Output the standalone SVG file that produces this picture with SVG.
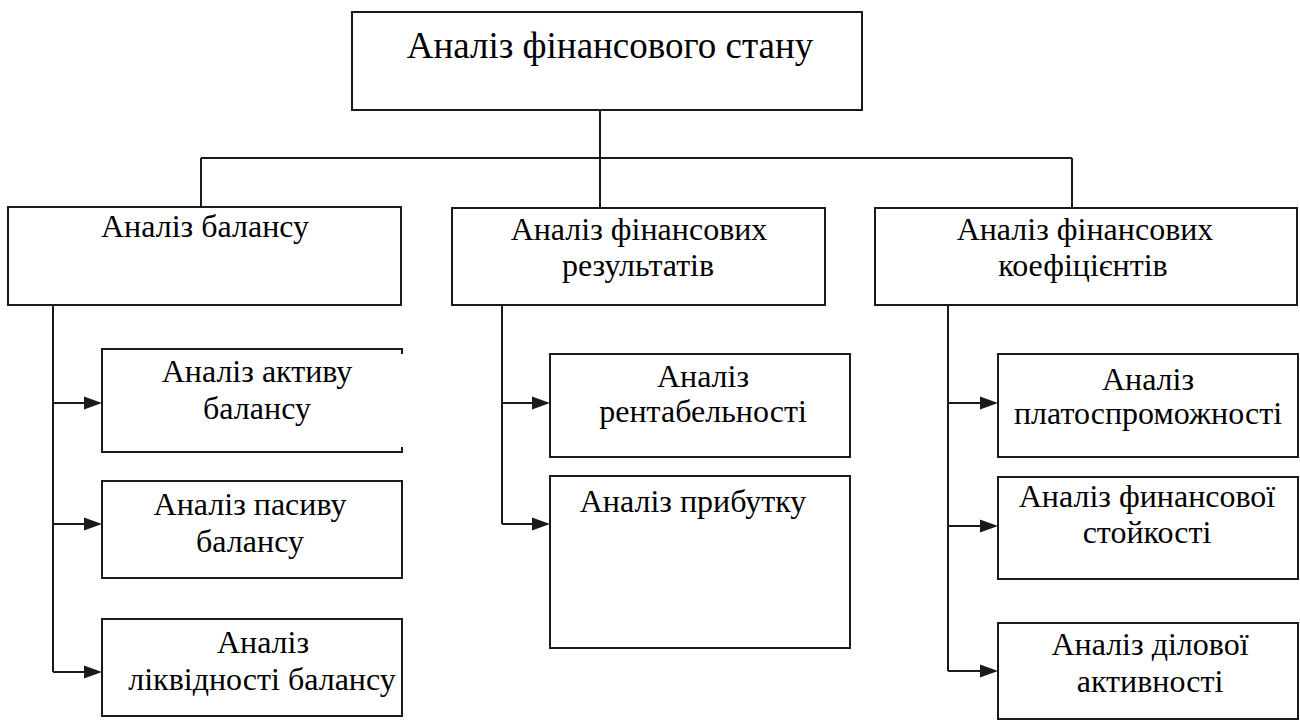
<svg xmlns="http://www.w3.org/2000/svg" width="1300" height="720" viewBox="0 0 1300 720">
<style>
.box{fill:#fff;stroke:#1a1a1a;stroke-width:2}
.ln{fill:none;stroke:#1a1a1a;stroke-width:2}
.ar{fill:#1a1a1a;stroke:none}
</style>
<rect width="1300" height="720" fill="#fff"/>
<g id="connectors">
<path class="ln" d="M600,110 V158 M201,158 H1072 M201,158 V207 M600,158 V208 M1072,158 V208"/>
<path class="ln" d="M53,305 V672 M53,403 H86 M53,524 H86 M53,672 H86"/>
<path class="ar" d="M84,396.5 L102,403 L84,409.5 Z M84,517.5 L102,524 L84,530.5 Z M84,665.5 L102,672 L84,678.5 Z"/>
<path class="ln" d="M502,305 V524 M502,403 H534 M502,524 H534"/>
<path class="ar" d="M532,396.5 L550,403 L532,409.5 Z M532,517.5 L550,524 L532,530.5 Z"/>
<path class="ln" d="M948,305 V671 M948,403 H982 M948,526 H982 M948,671 H982"/>
<path class="ar" d="M980,396.5 L998,403 L980,409.5 Z M980,519.5 L998,526 L980,532.5 Z M980,664.5 L998,671 L980,677.5 Z"/>
</g>
<g id="root">
<rect class="box" x="352" y="12" width="510" height="98"/>
<text x="610" y="58" font-family="Liberation Serif, Times New Roman, serif" font-size="37" text-anchor="middle" fill="#000">Аналіз фінансового стану</text>
</g>
<g id="balance">
<rect class="box" x="8" y="207" width="393" height="98"/>
<text x="205" y="237" font-family="Liberation Serif, Times New Roman, serif" font-size="32" text-anchor="middle" fill="#000">Аналіз балансу</text>
</g>
<g id="results">
<rect class="box" x="452" y="208" width="373" height="97"/>
<text x="639" y="240" font-family="Liberation Serif, Times New Roman, serif" font-size="32" text-anchor="middle" fill="#000">Аналіз фінансових</text>
<text x="638" y="276" font-family="Liberation Serif, Times New Roman, serif" font-size="32" text-anchor="middle" fill="#000">результатів</text>
</g>
<g id="coefficients">
<rect class="box" x="875" y="208" width="422" height="97"/>
<text x="1085" y="240" font-family="Liberation Serif, Times New Roman, serif" font-size="32" text-anchor="middle" fill="#000">Аналіз фінансових</text>
<text x="1083" y="276" font-family="Liberation Serif, Times New Roman, serif" font-size="32" text-anchor="middle" fill="#000">коефіцієнтів</text>
</g>
<g id="assets">
<path class="ln" d="M402,354 V349 H102 V452 H402 V447"/>
<text x="257" y="382" font-family="Liberation Serif, Times New Roman, serif" font-size="32" text-anchor="middle" fill="#000">Аналіз активу</text>
<text x="257" y="419" font-family="Liberation Serif, Times New Roman, serif" font-size="32" text-anchor="middle" fill="#000">балансу</text>
</g>
<g id="liabilities">
<rect class="box" x="102" y="481" width="300" height="97"/>
<text x="250" y="515" font-family="Liberation Serif, Times New Roman, serif" font-size="32" text-anchor="middle" fill="#000">Аналіз пасиву</text>
<text x="250" y="552" font-family="Liberation Serif, Times New Roman, serif" font-size="32" text-anchor="middle" fill="#000">балансу</text>
</g>
<g id="liquidity">
<rect class="box" x="102" y="619" width="300" height="97"/>
<text x="263" y="653" font-family="Liberation Serif, Times New Roman, serif" font-size="32" text-anchor="middle" fill="#000">Аналіз</text>
<text x="262" y="690" font-family="Liberation Serif, Times New Roman, serif" font-size="32" text-anchor="middle" fill="#000">ліквідності балансу</text>
</g>
<g id="profitability">
<rect class="box" x="550" y="354" width="300" height="103"/>
<text x="703" y="387" font-family="Liberation Serif, Times New Roman, serif" font-size="32" text-anchor="middle" fill="#000">Аналіз</text>
<text x="703" y="422" font-family="Liberation Serif, Times New Roman, serif" font-size="32" text-anchor="middle" fill="#000">рентабельності</text>
</g>
<g id="profit">
<rect class="box" x="550" y="476" width="300" height="172"/>
<text x="693" y="512" font-family="Liberation Serif, Times New Roman, serif" font-size="32" text-anchor="middle" fill="#000">Аналіз прибутку</text>
</g>
<g id="solvency">
<rect class="box" x="998" y="354" width="300" height="103"/>
<text x="1148" y="390" font-family="Liberation Serif, Times New Roman, serif" font-size="32" text-anchor="middle" fill="#000">Аналіз</text>
<text x="1148" y="424" font-family="Liberation Serif, Times New Roman, serif" font-size="32" text-anchor="middle" fill="#000">платоспроможності</text>
</g>
<g id="stability">
<rect class="box" x="998" y="477" width="300" height="102"/>
<text x="1147" y="507" font-family="Liberation Serif, Times New Roman, serif" font-size="32" text-anchor="middle" fill="#000">Аналіз финансової</text>
<text x="1147" y="543" font-family="Liberation Serif, Times New Roman, serif" font-size="32" text-anchor="middle" fill="#000">стойкості</text>
</g>
<g id="activity">
<rect class="box" x="998" y="623" width="300" height="96"/>
<text x="1150" y="655" font-family="Liberation Serif, Times New Roman, serif" font-size="32" text-anchor="middle" fill="#000">Аналіз ділової</text>
<text x="1150" y="692" font-family="Liberation Serif, Times New Roman, serif" font-size="32" text-anchor="middle" fill="#000">активності</text>
</g>
</svg>
